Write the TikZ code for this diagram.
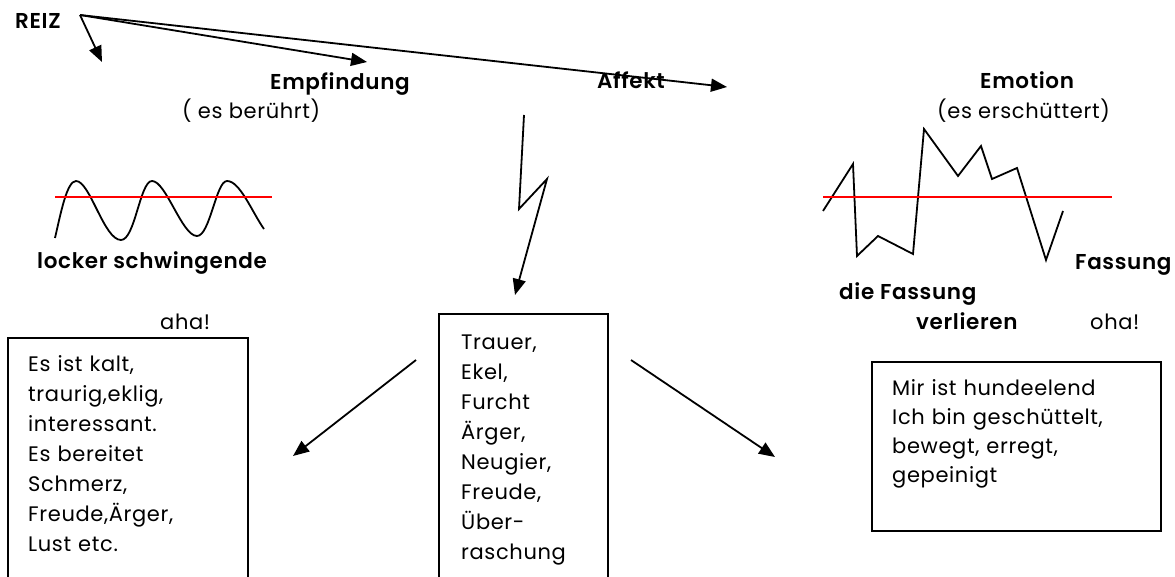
\documentclass[tikz,border=0pt]{standalone}
\usepackage{fontspec}
\setmainfont{Poppins}[LetterSpace=3, BoldFont={Poppins SemiBold}]
\usetikzlibrary{arrows.meta}
\begin{document}
\begin{tikzpicture}[x=1pt,y=-1pt,
  ln/.style={line width=1.8pt, line join=miter},
  arr/.style={ln,-{Triangle[length=16pt,width=13pt]}},
  lbl/.style={inner sep=0pt, anchor=base west, font=\fontsize{21.5}{24}\selectfont\bfseries},
  note/.style={inner sep=0pt, anchor=base west, font=\fontsize{21}{24}\selectfont},
  boxtext/.style={inner sep=0pt, anchor=base west, align=left, text width=220pt},
  frame/.style={draw, line width=1.8pt, inner sep=0pt, anchor=north west},
  level/.style={red, line width=1.6pt}]
\useasboundingbox (0,0) rectangle (1175,577);
\clip (0,0) rectangle (1175,577);

% headings
\node[lbl] (reiz) at (15,29) {REIZ};
\node[lbl] (empf) at (270,90) {Empfindung};
\node[note] (beruehrt) at (182,119) {( es berührt)};
\node[lbl] (affekt) at (597,89) {Affekt};
\node[lbl] (emotion) at (980,89) {Emotion};
\node[note] (erschuettert) at (937,119) {(es erschüttert)};
\node[lbl] (locker) at (37,269) {locker schwingende};
\node[lbl] (fassung) at (1075,270) {Fassung};
\node[lbl] (diefassung) at (839,300) {die Fassung};
\node[lbl] (verlieren) at (916,330) {verlieren};
\node[note] (oha) at (1090,329) {oha!};
\node[note] (aha) at (160,329) {aha!};

% boxes
\node[frame, minimum width=240pt, minimum height=280pt] (leftbox) at (7,337) {};
\node[frame, minimum width=169pt, minimum height=300pt] (midbox) at (438,313) {};
\node[frame, minimum width=289pt, minimum height=169pt] (rightbox) at (871,361) {};

\node[boxtext, font=\fontsize{21}{30}\selectfont] (lefttext) at (28,371)
  {Es ist kalt,\\traurig,eklig,\\interessant.\\Es bereitet\\Schmerz,\\Freude,Ärger,\\Lust etc.};
\node[boxtext, font=\fontsize{21}{30}\selectfont] (midtext) at (461,349)
  {Trauer,\\Ekel,\\Furcht\\Ärger,\\Neugier,\\Freude,\\Über-\\raschung};
\node[boxtext, text width=260pt, font=\fontsize{21}{29}\selectfont] (righttext) at (892,395)
  {Mir ist hundeelend\\Ich bin geschüttelt,\\bewegt, erregt,\\gepeinigt};

% arrows from the stimulus
\coordinate (src) at (80,15);
\coordinate (shortend) at (102,62);
\coordinate (empfend) at (367,62);
\coordinate (emoend) at (727,87);
\draw[arr] (src) -- (shortend);
\draw[arr] (src) -- (empfend);
\draw[arr] (src) -- (emoend);

% lightning from the affect
\coordinate (boltA) at (524,115);
\coordinate (boltB) at (519,209);
\coordinate (boltC) at (547,179);
\coordinate (boltD) at (515,295);
\draw[arr] (boltA) -- (boltB) -- (boltC) -- (boltD);

% arrows from the middle box
\coordinate (lstart) at (416,360);
\coordinate (lend) at (293,456);
\coordinate (rstart) at (631,360);
\coordinate (rend) at (775,457);
\draw[arr] (lstart) -- (lend);
\draw[arr] (rstart) -- (rend);

% loose oscillation
\draw[ln, line join=round] (55,238) .. controls (61,212) and (67,181) .. (76,181)
  .. controls (90,181) and (104,240) .. (121,240)
  .. controls (135,240) and (140,181) .. (152,181)
  .. controls (166,181) and (182,236) .. (197,236)
  .. controls (210,236) and (216,181) .. (227,181)
  .. controls (240,181) and (252,212) .. (264,229);
\draw[level] (55,197) -- (272,197);

% erratic oscillation
\draw[ln] (823,211) -- (853,164) -- (857,256) -- (878,236) -- (913,254)
  -- (924,129) -- (958,176) -- (981,146) -- (992,179) -- (1017,168)
  -- (1046,260) -- (1063,211);
\draw[level] (823,197) -- (1112,197);
\end{tikzpicture}
\end{document}
